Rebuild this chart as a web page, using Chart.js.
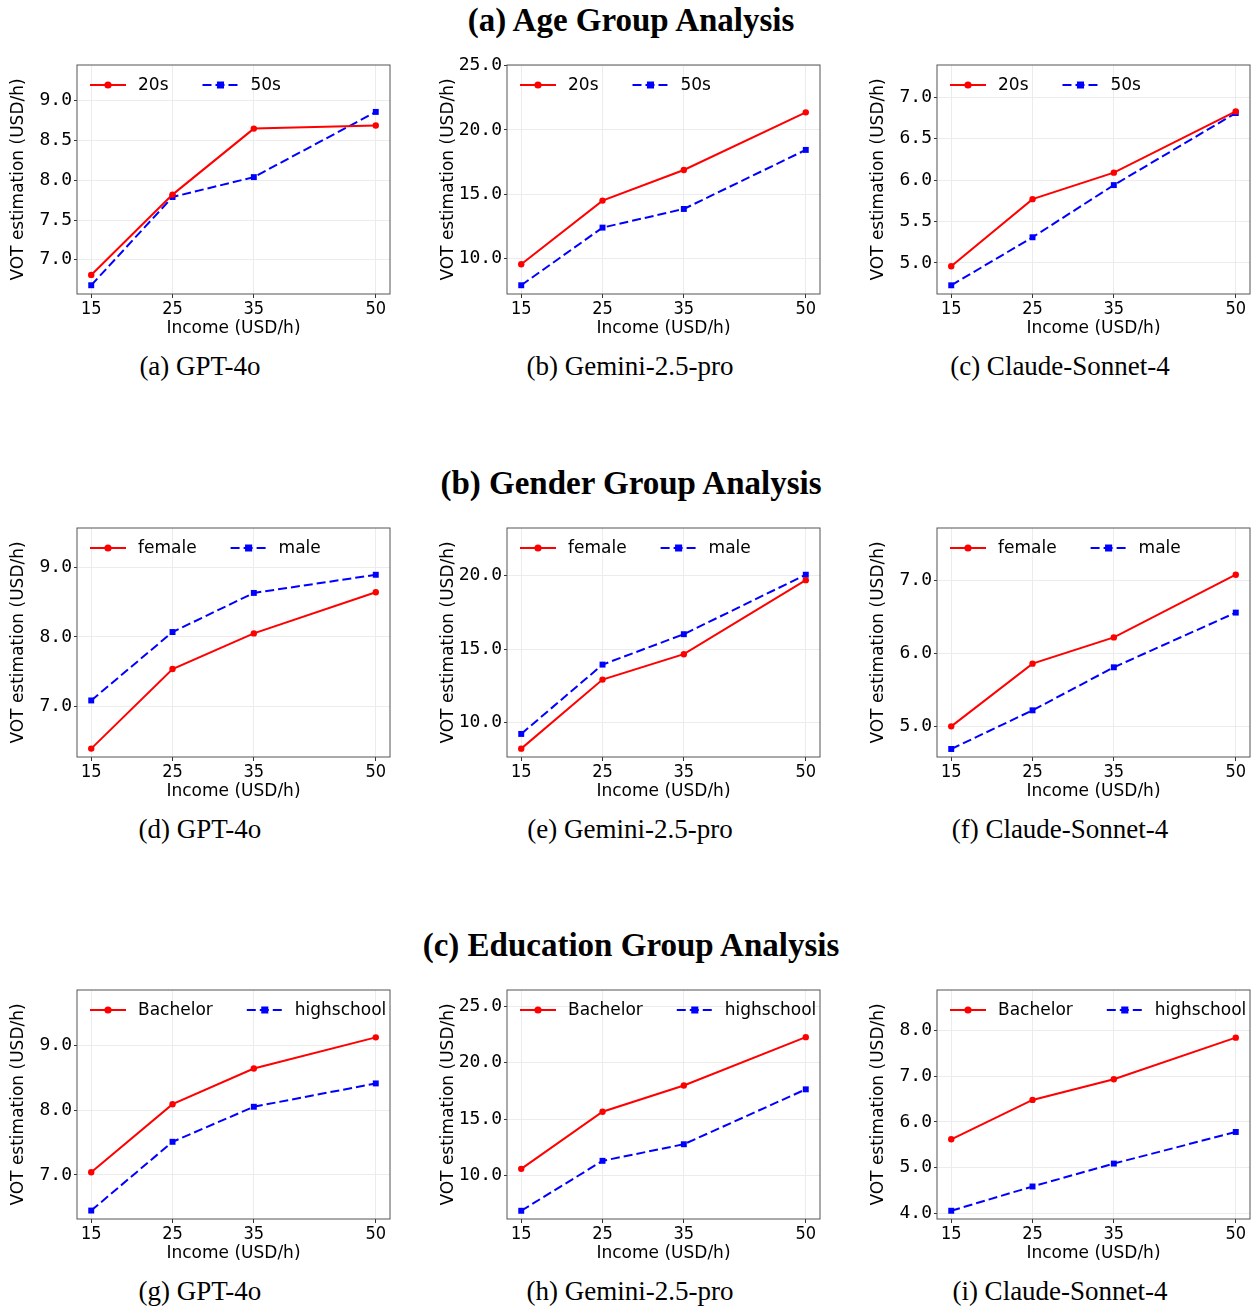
<!DOCTYPE html>
<html>
<head>
<meta charset="utf-8">
<script src="https://cdn.jsdelivr.net/npm/chart.js@4/dist/chart.umd.min.js"></script>
<style>
  html, body { margin: 0; padding: 0; background: #fff; overflow: hidden; }
  body { width: 1258px; height: 1309px; position: relative; }
  .sec { position: absolute; left: 0; width: 1262px; text-align: center;
         font: bold 33px "Liberation Serif", serif; line-height: 33px; color: #000; }
  .cap { position: absolute; width: 400px; text-align: center;
         font: 27px "Liberation Serif", serif; line-height: 27px; color: #000; }
  .box { position: absolute; width: 400px; height: 290px; }
</style>
</head>
<body>
<script>
const income = [15, 25, 35, 50];
const xTicks = [15, 25, 35, 50];

// (a) age group: 20s vs 50s
const gpt20s = [6.81, 7.82, 8.65, 8.69];
const gpt50s = [6.68, 7.79, 8.04, 8.86];
const gem20s = [9.56, 14.51, 16.89, 21.37];
const gem50s = [7.93, 12.41, 13.86, 18.45];
const cla20s = [4.96, 5.77, 6.09, 6.83];
const cla50s = [4.73, 5.31, 5.94, 6.81];

// (b) gender group: female vs male
const gptFemale = [6.40, 7.54, 8.05, 8.64];
const gptMale = [7.09, 8.07, 8.63, 8.89];
const gemFemale = [8.23, 12.93, 14.66, 19.70];
const gemMale = [9.23, 13.95, 16.02, 20.07];
const claFemale = [5.00, 5.86, 6.22, 7.08];
const claMale = [4.69, 5.22, 5.81, 6.56];

// (c) education group: Bachelor vs highschool
const gptBachelor = [7.04, 8.09, 8.64, 9.12];
const gptHigh = [6.45, 7.51, 8.05, 8.41];
const gemBachelor = [10.59, 15.65, 17.98, 22.27];
const gemHigh = [6.87, 11.30, 12.77, 17.64];
const claBachelor = [5.62, 6.48, 6.93, 7.84];
const claHigh = [4.06, 4.59, 5.09, 5.78];

// y tick labels per panel
const yTicksA = [[7.0, 7.5, 8.0, 8.5, 9.0], [10, 15, 20, 25], [5.0, 5.5, 6.0, 6.5, 7.0]];
const yTicksB = [[7.0, 8.0, 9.0], [10, 15, 20], [5.0, 6.0, 7.0]];
const yTicksC = [[7.0, 8.0, 9.0], [10, 15, 20, 25], [4.0, 5.0, 6.0, 7.0, 8.0]];

const groupTitles = ["(a) Age Group Analysis", "(b) Gender Group Analysis", "(c) Education Group Analysis"];
const captions = [
  ["(a) GPT-4o", "(b) Gemini-2.5-pro", "(c) Claude-Sonnet-4"],
  ["(d) GPT-4o", "(e) Gemini-2.5-pro", "(f) Claude-Sonnet-4"],
  ["(g) GPT-4o", "(h) Gemini-2.5-pro", "(i) Claude-Sonnet-4"]
];

const rows = [
  { names: ["20s", "50s"], series: [[gpt20s, gpt50s], [gem20s, gem50s], [cla20s, cla50s]],
    yTicks: yTicksA, yRange: [[6.57, 9.45], [7.25, 25.05], [4.625, 7.39]] },
  { names: ["female", "male"], series: [[gptFemale, gptMale], [gemFemale, gemMale], [claFemale, claMale]],
    yTicks: yTicksB, yRange: [[6.28, 9.56], [7.66, 23.25], [4.58, 7.72]] },
  { names: ["Bachelor", "highschool"], series: [[gptBachelor, gptHigh], [gemBachelor, gemHigh], [claBachelor, claHigh]],
    yTicks: yTicksC, yRange: [[6.32, 9.85], [6.14, 26.45], [3.88, 8.88]] }
];

const rowTop = [0, 463, 925];
const colLeft = [0, 430, 860];

// draws matplotlib-style legend (line + marker) inside the plot
const insideLegend = {
  id: "insideLegend",
  afterDatasetsDraw(chart) {
    const { ctx, chartArea } = chart;
    let x = chartArea.left + 13;
    const y = chartArea.top + 20;
    ctx.save();
    ctx.font = '17px "DejaVu Sans"';
    ctx.textBaseline = "middle";
    chart.data.datasets.forEach(ds => {
      ctx.strokeStyle = ds.borderColor;
      ctx.lineWidth = ds.borderWidth;
      ctx.setLineDash(ds.borderDash || []);
      ctx.beginPath();
      ctx.moveTo(x, y);
      ctx.lineTo(x + 36, y);
      ctx.stroke();
      ctx.setLineDash([]);
      ctx.fillStyle = ds.pointBackgroundColor;
      ctx.strokeStyle = ds.pointBorderColor;
      Chart.helpers.drawPoint(ctx, { pointStyle: ds.pointStyle, radius: ds.pointRadius - 0.6, borderWidth: 1, rotation: 0 }, x + 18, y);
      ctx.fillStyle = "#000";
      ctx.fillText(ds.label, x + 48, y + 1);
      x += 48 + ctx.measureText(ds.label).width + 34;
    });
    ctx.restore();
  }
};

// box around the plot area (all four spines)
const frame = {
  id: "frame",
  afterDraw(chart) {
    const { ctx, chartArea: a } = chart;
    ctx.save();
    ctx.strokeStyle = "#555";
    ctx.lineWidth = 1;
    ctx.strokeRect(a.left, a.top, a.right - a.left, a.bottom - a.top);
    ctx.restore();
  }
};

function addText(cls, text, left, top) {
  const d = document.createElement("div");
  d.className = cls;
  d.textContent = text;
  if (left !== null) d.style.left = left + "px";
  d.style.top = top + "px";
  document.body.appendChild(d);
}

rows.forEach((row, r) => {
  addText("sec", groupTitles[r], null, rowTop[r] + 4);
  row.series.forEach((pair, c) => {
    const box = document.createElement("div");
    box.className = "box";
    box.style.left = colLeft[c] + "px";
    box.style.top = (rowTop[r] + 55) + "px";
    const cv = document.createElement("canvas");
    box.appendChild(cv);
    document.body.appendChild(box);
    addText("cap", captions[r][c], colLeft[c], rowTop[r] + 353);

    const yt = row.yTicks[c];
    new Chart(cv, {
      type: "line",
      data: {
        datasets: [
          {
            label: row.names[0],
            data: income.map((v, i) => ({ x: v, y: pair[0][i] })),
            borderColor: "#ff0000", backgroundColor: "#ff0000",
            pointBackgroundColor: "#ff0000", pointBorderColor: "#ff0000",
            borderWidth: 2, pointStyle: "circle", pointRadius: 3.2, pointBorderWidth: 0
          },
          {
            label: row.names[1],
            data: income.map((v, i) => ({ x: v, y: pair[1][i] })),
            borderColor: "#0000ff", backgroundColor: "#0000ff",
            pointBackgroundColor: "#0000ff", pointBorderColor: "#0000ff",
            borderWidth: 2, borderDash: [9, 4], pointStyle: "rect", pointRadius: 4.2, pointBorderWidth: 0
          }
        ]
      },
      options: {
        responsive: true,
        maintainAspectRatio: false,
        animation: false,
        events: [],
        layout: { padding: { top: 10, right: 10, left: 0, bottom: 0 } },
        plugins: { legend: { display: false }, tooltip: { enabled: false } },
        scales: {
          x: {
            type: "linear",
            min: 13.25, max: 51.75,
            afterBuildTicks: s => { s.ticks = xTicks.map(v => ({ value: v })); },
            afterFit: s => { s.height = 51; s.paddingLeft = 0; s.paddingRight = 0; },
            grid: { color: "#ececec", tickColor: "#333", tickLength: 4, drawTicks: true },
            border: { display: false },
            ticks: { color: "#000", padding: 1, maxRotation: 0, font: { family: '"DejaVu Sans Condensed", "DejaVu Sans"', size: 18 } },
            title: { display: true, text: "Income (USD/h)", color: "#000", padding: { top: 0, bottom: 6 }, font: { family: '"DejaVu Sans"', size: 17 } }
          },
          y: {
            min: row.yRange[c][0], max: row.yRange[c][1],
            afterBuildTicks: s => { s.ticks = yt.map(v => ({ value: v })); },
            afterFit: s => { s.width = 77; s.paddingTop = 0; s.paddingBottom = 0; },
            grid: { color: "#ececec", tickColor: "#333", tickLength: 3, drawTicks: true },
            border: { display: false },
            ticks: { color: "#000", padding: 2, font: { family: '"DejaVu Sans Mono"', size: 18 }, callback: v => Number(v).toFixed(1) },
            title: { display: true, text: "VOT estimation (USD/h)", color: "#000", padding: { top: 8, bottom: 0 }, font: { family: '"DejaVu Sans"', size: 17 } }
          }
        }
      },
      plugins: [insideLegend, frame]
    });
  });
});
</script>
</body>
</html>
